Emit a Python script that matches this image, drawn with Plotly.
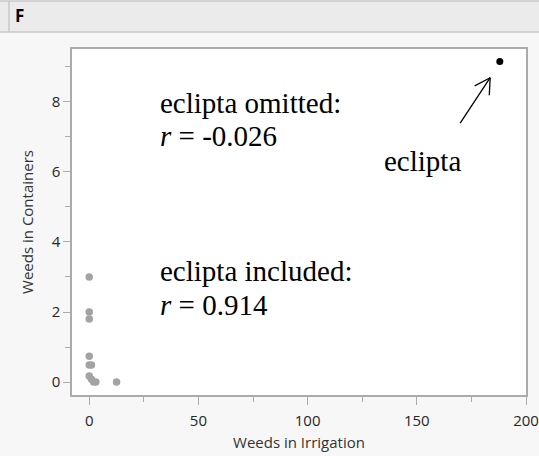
import plotly.graph_objects as go

# Data
irrigation_other = [0, 0, 0, 0, 0, 1, 0, 1, 2, 3, 12.5]
containers_other = [3.0, 2.0, 1.8, 0.74, 0.49, 0.49, 0.17, 0.08, 0, 0, 0]
eclipta_irrigation = [188]
eclipta_containers = [9.15]

x_ticks = [0, 50, 100, 150, 200]
y_ticks = [0, 2, 4, 6, 8]

panel_label = "F"
x_title = "Weeds in Irrigation"
y_title = "Weeds in Containers"

fig = go.Figure()
fig.add_trace(go.Scatter(
    x=irrigation_other, y=containers_other, mode="markers",
    marker=dict(color="#a3a3a3", size=7.5), showlegend=False, hoverinfo="skip"))
fig.add_trace(go.Scatter(
    x=eclipta_irrigation, y=eclipta_containers, mode="markers",
    marker=dict(color="#000000", size=7), showlegend=False, hoverinfo="skip"))

W, H = 539, 456
L, R, T, B = 72, 13, 49, 61
pw, ph = W - L - R, H - T - B

def px(xp):
    return (xp - L) / pw

def py(yp):
    return (H - B - yp) / ph

# header bar
fig.add_shape(type="rect", xref="paper", yref="paper",
              x0=px(-2), x1=px(W + 2), y0=py(32), y1=py(1),
              fillcolor="#ebebeb", line=dict(color="#c9c9c9", width=1.5), layer="below")
fig.add_shape(type="line", xref="paper", yref="paper",
              x0=px(9), x1=px(9), y0=py(32), y1=py(1),
              line=dict(color="#c9c9c9", width=1.5))

serif = "Liberation Serif, Times New Roman, serif"
fs = 29
ann = [
    ("eclipta omitted:", 31.5, 7.98),
    ("<i>r</i> = -0.026", 31.5, 7.03),
    ("eclipta included:", 31.5, 3.16),
    ("<i>r</i> = 0.914", 31.5, 2.2),
    ("eclipta", 134.2, 6.31),
]
annotations = []
for txt, xv, yv in ann:
    annotations.append(dict(text=txt, x=xv, y=yv, xref="x", yref="y",
                            xanchor="left", yanchor="middle", showarrow=False,
                            font=dict(family=serif, size=fs, color="#000000")))

# arrow pointing at eclipta: shaft plus two open barbs (pixel offsets from the tip)
tip_x, tip_y = 183.6, 8.69
for dx, dy in [(-31, 47), (-17, 9), (-1, 19)]:
    annotations.append(dict(text="", x=tip_x, y=tip_y, xref="x", yref="y",
                            ax=dx, ay=dy, showarrow=True, arrowhead=0,
                            arrowwidth=1.3, arrowcolor="#000000", standoff=0,
                            startstandoff=0))
annotations.append(dict(text="<b>" + panel_label + "</b>", x=px(13), y=py(16),
                        xref="paper", yref="paper", xanchor="left", yanchor="middle",
                        showarrow=False,
                        font=dict(family="Noto Sans, DejaVu Sans", size=17, color="#000000")))

sans = "Open Sans, Noto Sans"
tickfont = dict(family=sans, size=15, color="#262626")
titlefont = dict(family=sans, size=15, color="#333333")
fig.update_layout(
    width=W, height=H,
    autosize=False,
    margin=dict(l=L, r=R, t=T, b=B, autoexpand=False),
    paper_bgcolor="#f7f7f7",
    plot_bgcolor="#ffffff",
    annotations=annotations,
    xaxis=dict(range=[-7.9, 200], tickvals=x_ticks, showgrid=False, zeroline=False,
               automargin=False,
               showline=True, mirror=True, linecolor="#ababab", linewidth=1.5,
               ticks="outside", ticklen=8, tickcolor="#ababab", tickwidth=1,
               ticklabelstandoff=3,
               minor=dict(dtick=25, tick0=0, ticks="outside", ticklen=5, tickcolor="#ababab", showgrid=False),
               tickfont=tickfont,
               title=dict(text=x_title, font=titlefont, standoff=9)),
    yaxis=dict(range=[-0.37, 9.51], tickvals=y_ticks, showgrid=False, zeroline=False,
               automargin=False,
               showline=True, mirror=True, linecolor="#ababab", linewidth=1.5,
               ticks="outside", ticklen=7, tickcolor="#ababab", tickwidth=1,
               minor=dict(dtick=1, tick0=0, ticks="outside", ticklen=5, tickcolor="#ababab", showgrid=False),
               tickfont=tickfont,
               title=dict(text=y_title, font=titlefont, standoff=14)),
)

fig.write_html("out.html", config={"responsive": False})
